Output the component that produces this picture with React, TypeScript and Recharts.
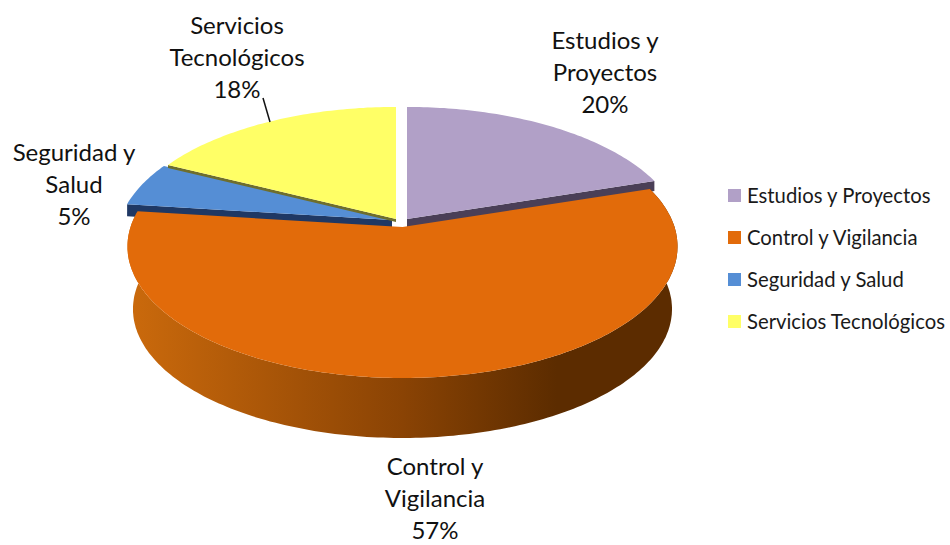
import React from 'react';
import { PieChart, Pie, Cell, Legend } from 'recharts';

const categories = ['Estudios y Proyectos', 'Control y Vigilancia', 'Seguridad y Salud', 'Servicios Tecnológicos'];
const shares = [20, 57, 5.4, 17.6];
const labelLines = [
    ['Estudios y', 'Proyectos', '20%'],
    ['Control y', 'Vigilancia', '57%'],
    ['Seguridad y', 'Salud', '5%'],
    ['Servicios', 'Tecnológicos', '18%'],
];

const topColors = ['#b1a0c7', '#e26b0a', '#558ed5', '#ffff66'];
const sideColors = ['#4a3f57', 'url(#orangeWall)', '#1f3864', '#6e6e2d'];
// how far each slice is pulled out of the pie, and how much of its cut face shows
const explode = [[4.5, -8], [0, 0], [-10.5, -7], [-6.5, -8]];
const faceDepth = [10, 0, 12, 3];
const labelPos = [[605, 41], [435, 467], [74, 153], [237, 26]];

const LABEL_FONT = 'Lato, "Open Sans", sans-serif';
const LINE_HEIGHT = 32;
const PERSPECTIVE = 0.148;
const TILT = 0.473;
const WALL_DROP = 63;
const WALL_SHRINK = 0.98;

const tableData = categories.map((name, i) => ({ name, value: shares[i] }));

// 3D look: project the flat circle onto a plane seen in perspective
const project = (clock: number, r: number, cx: number, cy: number) => {
    const a = (clock * Math.PI) / 180;
    const s = 1 / (1 + PERSPECTIVE * Math.cos(a));
    return [cx + r * Math.sin(a) * s, cy - r * TILT * Math.cos(a) * s];
};

const arc = (from: number, to: number, r: number, cx: number, cy: number) => {
    const pts: number[][] = [];
    const n = Math.max(2, Math.ceil(to - from));
    for (let i = 0; i <= n; i++) pts.push(project(from + ((to - from) * i) / n, r, cx, cy));
    return pts;
};

const toPath = (pts: number[][]) => 'M' + pts.map((p) => `${p[0].toFixed(1)},${p[1].toFixed(1)}`).join('L') + 'Z';

const sliceIndex = (props: any) => categories.indexOf(props.name ?? props.payload?.name);

const facePath = (props: any, i: number) => {
    const [dx, dy] = explode[i];
    const cx = props.cx + dx;
    const cy = props.cy + dy;
    const edgeAngle = i === 0 ? 90 - props.endAngle : 90 - props.startAngle;
    const tip = project(edgeAngle, props.outerRadius, cx, cy);
    const d = faceDepth[i];
    return toPath([[cx, cy], tip, [tip[0], tip[1] + d], [cx, cy + d]]);
};

const SideShape = (props: any) => {
    const i = sliceIndex(props);
    const from = 90 - props.startAngle;
    const to = 90 - props.endAngle;
    if (i === 1) {
        const top = arc(from, to, props.outerRadius, props.cx, props.cy);
        const bottom = arc(from, to, props.outerRadius * WALL_SHRINK, props.cx, props.cy + WALL_DROP);
        return (
            <g>
                <defs>
                    <linearGradient id="orangeWall" x1="0" y1="0" x2="1" y2="0">
                        <stop offset="0" stopColor="#cb6a0c" />
                        <stop offset="0.5" stopColor="#8a4304" />
                        <stop offset="0.78" stopColor="#5c2c00" />
                        <stop offset="1" stopColor="#5c2c00" />
                    </linearGradient>
                </defs>
                <path d={toPath([...top, ...bottom.reverse()])} fill={sideColors[i]} />
            </g>
        );
    }
    if (i === 3) return null; // the yellow face sits over the blue top, see TopShape
    return <path d={facePath(props, i)} fill={sideColors[i]} />;
};

const TopShape = (props: any) => {
    const i = sliceIndex(props);
    const [dx, dy] = explode[i];
    const cx = props.cx + dx;
    const cy = props.cy + dy;
    const pts = arc(90 - props.startAngle, 90 - props.endAngle, props.outerRadius, cx, cy);
    return (
        <g>
            {i === 3 && <path d={facePath(props, i)} fill={sideColors[i]} />}
            <path d={toPath([[cx, cy], ...pts])} fill={topColors[i]} />
        </g>
    );
};

const SliceLabel = (props: any) => {
    const i = props.index ?? sliceIndex(props);
    const [x, y] = labelPos[i];
    return (
        <g>
            <text x={x} y={y} textAnchor="middle" fontFamily={LABEL_FONT} fontSize={24} fill="#111" stroke="none">
                {labelLines[i].map((line, k) => (
                    <tspan key={k} x={x} y={y + k * LINE_HEIGHT + 8}>
                        {line}
                    </tspan>
                ))}
            </text>
            {i === 3 && <line x1={263} y1={98} x2={270} y2={122} stroke="#111" strokeWidth={1.5} />}
        </g>
    );
};

const LegendBlock = () => (
    <ul style={{ listStyle: 'none', margin: 0, padding: 0 }}>
        {categories.map((name, i) => (
            <li key={name} style={{ display: 'flex', alignItems: 'center', height: 42, whiteSpace: 'nowrap' }}>
                <span style={{ width: 13, height: 13, background: topColors[i], marginRight: 6, flex: 'none' }} />
                <span style={{ fontFamily: LABEL_FONT, fontSize: 20.3, color: '#1a1a1a' }}>{name}</span>
            </li>
        ))}
    </ul>
);

export default function App() {
    return (
        <div style={{ position: 'absolute', left: 0, top: 0, width: 950, height: 545, background: '#fff', overflow: 'hidden' }}>
            <PieChart width={950} height={545} margin={{ top: 0, right: 0, bottom: 0, left: 0 }}>
                <Pie
                    data={tableData}
                    dataKey="value"
                    nameKey="name"
                    cx={402.5}
                    cy={227}
                    outerRadius={272}
                    startAngle={90}
                    endAngle={-270}
                    stroke="none"
                    legendType="none"
                    shape={SideShape}
                    isAnimationActive={false}
                />
                <Pie
                    data={tableData}
                    dataKey="value"
                    nameKey="name"
                    cx={402.5}
                    cy={227}
                    outerRadius={272}
                    startAngle={90}
                    endAngle={-270}
                    stroke="none"
                    shape={TopShape}
                    label={SliceLabel}
                    labelLine={false}
                    isAnimationActive={false}
                >
                    {tableData.map((d, i) => (
                        <Cell key={d.name} fill={topColors[i]} />
                    ))}
                </Pie>
                <Legend
                    layout="vertical"
                    content={LegendBlock}
                    wrapperStyle={{ position: 'absolute', left: 728, top: 174, width: 222, height: 168 }}
                />
            </PieChart>
        </div>
    );
}
